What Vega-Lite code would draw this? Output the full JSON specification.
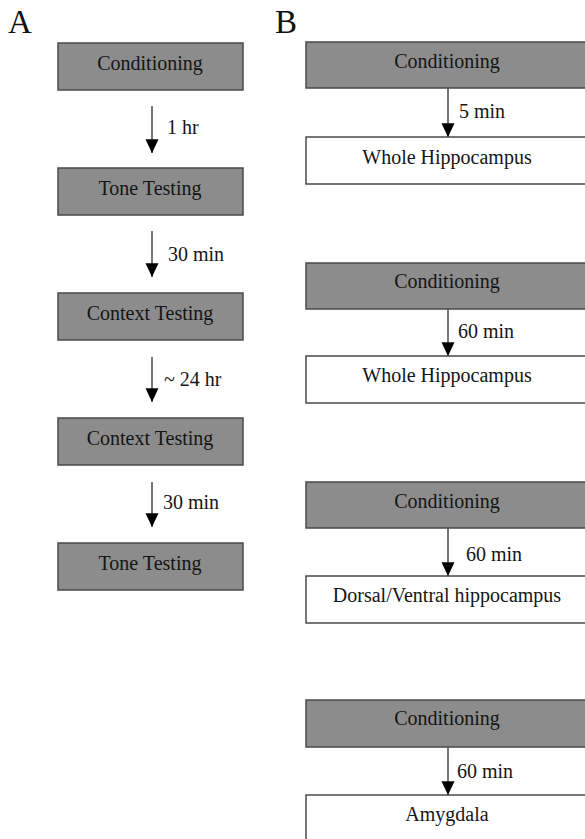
{
  "$schema": "https://vega.github.io/schema/vega-lite/v6.json",
  "width": 585,
  "height": 839,
  "padding": 0,
  "autosize": {"type": "fit", "contains": "padding"},
  "background": "white",
  "config": {"view": {"stroke": null}},
  "datasets": {
    "boxes": [
      {"panel": "A", "label": "Conditioning", "kind": "gray", "x": 58, "x2": 243, "y": 43, "y2": 90, "cx": 150, "cy": 63.5},
      {"panel": "A", "label": "Tone Testing", "kind": "gray", "x": 58, "x2": 243, "y": 168, "y2": 215, "cx": 150, "cy": 188.5},
      {"panel": "A", "label": "Context Testing", "kind": "gray", "x": 58, "x2": 243, "y": 293, "y2": 340, "cx": 150, "cy": 313.5},
      {"panel": "A", "label": "Context Testing", "kind": "gray", "x": 58, "x2": 243, "y": 418, "y2": 465, "cx": 150, "cy": 438.5},
      {"panel": "A", "label": "Tone Testing", "kind": "gray", "x": 58, "x2": 243, "y": 543, "y2": 590, "cx": 150, "cy": 563.5},
      {"panel": "B", "label": "Conditioning", "kind": "gray", "x": 306, "x2": 590, "y": 42, "y2": 88, "cx": 447, "cy": 62},
      {"panel": "B", "label": "Whole Hippocampus", "kind": "white", "x": 306, "x2": 590, "y": 137, "y2": 184, "cx": 447, "cy": 158},
      {"panel": "B", "label": "Conditioning", "kind": "gray", "x": 306, "x2": 590, "y": 263, "y2": 309, "cx": 447, "cy": 282},
      {"panel": "B", "label": "Whole Hippocampus", "kind": "white", "x": 306, "x2": 590, "y": 356, "y2": 403, "cx": 447, "cy": 376},
      {"panel": "B", "label": "Conditioning", "kind": "gray", "x": 306, "x2": 590, "y": 482, "y2": 528, "cx": 447, "cy": 502},
      {"panel": "B", "label": "Dorsal/Ventral hippocampus", "kind": "white", "x": 306, "x2": 590, "y": 576, "y2": 623, "cx": 447, "cy": 596},
      {"panel": "B", "label": "Conditioning", "kind": "gray", "x": 306, "x2": 590, "y": 700, "y2": 747, "cx": 447, "cy": 719},
      {"panel": "B", "label": "Amygdala", "kind": "white", "x": 306, "x2": 590, "y": 795, "y2": 842, "cx": 447, "cy": 815}
    ],
    "arrows": [
      {"panel": "A", "label": "1 hr", "x": 152, "y": 106, "tip": 153, "lx": 167, "ly": 128},
      {"panel": "A", "label": "30 min", "x": 152, "y": 231, "tip": 277, "lx": 168, "ly": 255},
      {"panel": "A", "label": "~ 24 hr", "x": 152, "y": 357, "tip": 402, "lx": 164, "ly": 380},
      {"panel": "A", "label": "30 min", "x": 152, "y": 482, "tip": 527, "lx": 163, "ly": 503},
      {"panel": "B", "label": "5 min", "x": 448, "y": 88, "tip": 137, "lx": 459, "ly": 112},
      {"panel": "B", "label": "60 min", "x": 448, "y": 309, "tip": 356, "lx": 458, "ly": 332},
      {"panel": "B", "label": "60 min", "x": 448, "y": 528, "tip": 576, "lx": 466, "ly": 555},
      {"panel": "B", "label": "60 min", "x": 448, "y": 747, "tip": 795, "lx": 457, "ly": 772}
    ],
    "letters": [
      {"label": "A", "x": 8, "y": 33},
      {"label": "B", "x": 275, "y": 33}
    ]
  },
  "layer": [
    {
      "data": {"name": "boxes"},
      "mark": {"type": "rect", "stroke": "#4a4a4a", "strokeWidth": 1.5, "clip": true},
      "encoding": {
        "x": {"field": "x", "type": "quantitative", "scale": {"domain": [0, 585], "nice": false, "zero": false}, "axis": null},
        "x2": {"field": "x2"},
        "y": {"field": "y", "type": "quantitative", "scale": {"domain": [0, 839], "nice": false, "zero": false, "reverse": true}, "axis": null},
        "y2": {"field": "y2"},
        "fill": {"field": "kind", "type": "nominal", "scale": {"domain": ["gray", "white"], "range": ["#8c8c8c", "#ffffff"]}, "legend": null}
      }
    },
    {
      "data": {"name": "boxes"},
      "mark": {"type": "text", "font": "Liberation Serif", "fontSize": 20, "align": "center", "baseline": "middle", "color": "#151515"},
      "encoding": {
        "x": {"field": "cx", "type": "quantitative", "scale": {"domain": [0, 585], "nice": false, "zero": false}, "axis": null},
        "y": {"field": "cy", "type": "quantitative", "scale": {"domain": [0, 839], "nice": false, "zero": false, "reverse": true}, "axis": null},
        "text": {"field": "label"}
      }
    },
    {
      "data": {"name": "arrows"},
      "mark": {"type": "rule", "color": "#555555", "strokeWidth": 1.6},
      "encoding": {
        "x": {"field": "x", "type": "quantitative", "scale": {"domain": [0, 585], "nice": false, "zero": false}, "axis": null},
        "y": {"field": "y", "type": "quantitative", "scale": {"domain": [0, 839], "nice": false, "zero": false, "reverse": true}, "axis": null},
        "y2": {"field": "tip"}
      }
    },
    {
      "data": {"name": "arrows"},
      "mark": {"type": "point", "shape": "M-1,-1.1L1,-1.1L0,1Z", "size": 169, "filled": true, "color": "#000000", "opacity": 1, "strokeWidth": 0, "yOffset": -6.5},
      "encoding": {
        "x": {"field": "x", "type": "quantitative", "scale": {"domain": [0, 585], "nice": false, "zero": false}, "axis": null},
        "y": {"field": "tip", "type": "quantitative", "scale": {"domain": [0, 839], "nice": false, "zero": false, "reverse": true}, "axis": null}
      }
    },
    {
      "data": {"name": "arrows"},
      "mark": {"type": "text", "font": "Liberation Serif", "fontSize": 20, "align": "left", "baseline": "middle", "color": "#151515"},
      "encoding": {
        "x": {"field": "lx", "type": "quantitative", "scale": {"domain": [0, 585], "nice": false, "zero": false}, "axis": null},
        "y": {"field": "ly", "type": "quantitative", "scale": {"domain": [0, 839], "nice": false, "zero": false, "reverse": true}, "axis": null},
        "text": {"field": "label"}
      }
    },
    {
      "data": {"name": "letters"},
      "mark": {"type": "text", "font": "Liberation Serif", "fontSize": 33, "align": "left", "baseline": "alphabetic", "color": "#111111"},
      "encoding": {
        "x": {"field": "x", "type": "quantitative", "scale": {"domain": [0, 585], "nice": false, "zero": false}, "axis": null},
        "y": {"field": "y", "type": "quantitative", "scale": {"domain": [0, 839], "nice": false, "zero": false, "reverse": true}, "axis": null},
        "text": {"field": "label"}
      }
    }
  ]
}
